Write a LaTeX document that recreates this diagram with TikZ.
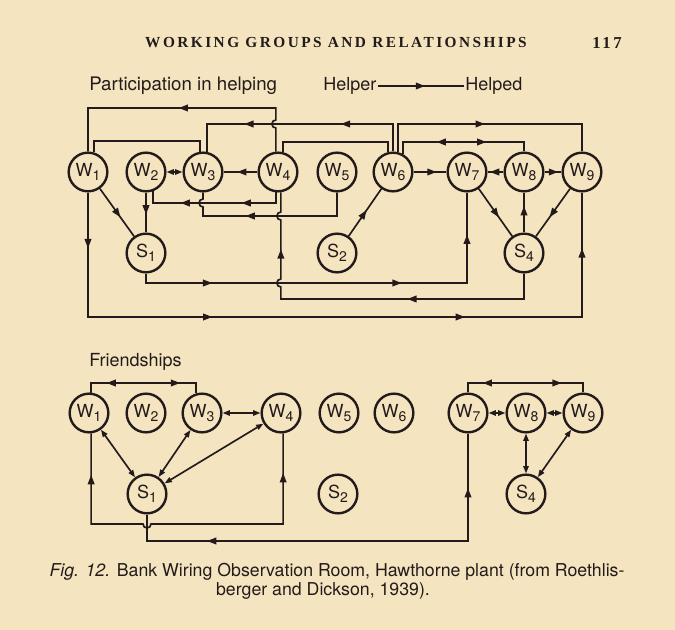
\documentclass[tikz,border=0pt]{standalone}
\usepackage{fontspec}
\setmainfont{TeX Gyre Heros}
\newfontfamily\headfont[LetterSpace=16]{Liberation Serif}
\usepackage{tikz}
\usetikzlibrary{arrows.meta,decorations.markings}

\definecolor{paper}{RGB}{244,229,192}
\definecolor{ink}{RGB}{35,27,27}
\newcommand{\lowidx}[1]{\raisebox{-0.45ex}{\fontsize{10.5}{10.5}\selectfont #1}}

\begin{document}
\begin{tikzpicture}[x=0.75pt,y=0.75pt,yscale=-1,xscale=1,
	man/.style={circle,draw=ink,text=ink,line width=1.8pt,minimum size=29pt,inner sep=0pt,font=\fontsize{13.5}{13.5}\selectfont},
	link/.style={draw=ink,line width=1.25pt},
	fwd/.style={postaction={decorate,decoration={markings,mark=at position #1 with {\arrow{Triangle[length=7pt,width=5pt]}}}}},
	bwd/.style={postaction={decorate,decoration={markings,mark=at position #1 with {\arrowreversed{Triangle[length=7pt,width=5pt]}}}}},
	mutual/.style={<->,>={Triangle[length=5.5pt,width=4pt]}},
	label/.style={text=ink,inner sep=0.75pt}]
				%set diagram to the page size
				\fill [paper] (0,0) rectangle (675,630);
				\useasboundingbox (0,0) rectangle (675,630);
				
				% Text Node
				\node [label,font=\headfont\bfseries\fontsize{11.5}{11.5}\selectfont] (head) at (336,43) {WORKING GROUPS AND RELATIONSHIPS};
				% Text Node
				\node [label,font=\headfont\bfseries\fontsize{12.5}{12.5}\selectfont] (page) at (607,43) {117};
				% Text Node
				\node [label,anchor=west,font=\fontsize{14}{14}\selectfont] (help) at (88,86) {Participation in helping};
				% Text Node
				\node [label,anchor=west,font=\fontsize{13.5}{13.5}\selectfont] (helper) at (322,86) {Helper};
				% Text Node
				\node [label,anchor=west,font=\fontsize{13.5}{13.5}\selectfont] (helped) at (464,86) {Helped};
				% Text Node
				\node [label,anchor=west,font=\fontsize{13.5}{13.5}\selectfont] (friend) at (88,362) {Friendships};
				%Straight Lines: legend
				\draw [link,fwd=0.55] (helper) -- (helped);
				
				%Shape: Circle -- helping
				\node [man] (w1) at (88,172) {W\lowidx{1}};
				\node [man] (w2) at (146,172) {W\lowidx{2}};
				\node [man] (w3) at (203,172) {W\lowidx{3}};
				\node [man] (w4) at (278,172) {W\lowidx{4}};
				\node [man] (w5) at (337,172) {W\lowidx{5}};
				\node [man] (w6) at (393,172) {W\lowidx{6}};
				\node [man] (w7) at (467,172) {W\lowidx{7}};
				\node [man] (w8) at (524,172) {W\lowidx{8}};
				\node [man] (w9) at (582,172) {W\lowidx{9}};
				\node [man] (s1) at (146,253) {S\lowidx{1}};
				\node [man] (s2) at (337,253) {S\lowidx{2}};
				\node [man] (s4) at (524,253) {S\lowidx{4}};
				
				%Straight Lines -- helping, over the top
				\draw [link,fwd=0.52] (w4.96) -- (w4.96 |- 0,128) arc[start angle=90,end angle=270,radius=4] |- (w1.north |- 0,108) -- (w1.north);
				\draw [link] (w1.73) |- (w3.98 |- 0,141) -- (w3.98);
				\draw [link,fwd=0.33,fwd=0.73] (w6.north) |- (w3.79 |- 0,124) -- (w3.79);
				\draw [link,fwd=0.48] (w6.76) |- (w9.north |- 0,124) -- (w9.north);
				\draw [link,bwd=0.32,fwd=0.67] (w6.61) |- (w8.north |- 0,142) -- (w8.north);
				\draw [link] (w4.76) |- (w6.104 |- 0,142) -- (w6.104);
				%Straight Lines -- helping, in the row
				\draw [link,fwd=0.6] (w4) -- (w3);
				\draw [link,mutual] (w2) -- (w3);
				\draw [link,fwd=0.7] (w6) -- (w7);
				\draw [link,fwd=0.85] (w8) -- (w7);
				\draw [link,fwd=0.8] (w8) -- (w9);
				%Straight Lines -- helping, to and from the inspectors
				\draw [link,fwd=0.6] (w1) -- (s1);
				\draw [link,fwd=0.55] (w2) -- (s1);
				\draw [link,fwd=0.55] (s2) -- (w6);
				\draw [link,fwd=0.6] (w7) -- (s4);
				\draw [link,fwd=0.66] (s4) -- (w8);
				\draw [link,fwd=0.6] (w9) -- (s4);
				%Straight Lines -- helping, underneath
				\draw [link,fwd=0.31,fwd=0.73] (w4.264) |- (w2.290 |- 0,203) -- (w2.290);
				\draw [link,fwd=0.62] (w5.south) |- (w3.south |- 0,216) -- (w3.south |- 0,207) arc[start angle=90,end angle=270,radius=4] -- (w3.south);
				\draw [link,fwd=0.37,fwd=0.84] (s4.south) |- (w4.278 |- 0,299) -- (w4.278 |- 0,287) arc[start angle=90,end angle=270,radius=4] -- (w4.278 |- 0,220) arc[start angle=90,end angle=270,radius=4] -- (w4.278);
				\draw [link,fwd=0.18,fwd=0.63,fwd=0.9] (s1.south) |- (w7.south |- 0,283) -- (w7.south);
				\draw [link,fwd=0.075,fwd=0.335,fwd=0.675,fwd=0.925] (w1.south) |- (w9.south |- 0,317) -- (w9.south);
				
				%Shape: Circle -- friendships
				\node [man] (fw1) at (89,413) {W\lowidx{1}};
				\node [man] (fw2) at (146,413) {W\lowidx{2}};
				\node [man] (fw3) at (202,413) {W\lowidx{3}};
				\node [man] (fw4) at (281,413) {W\lowidx{4}};
				\node [man] (fw5) at (339,413) {W\lowidx{5}};
				\node [man] (fw6) at (394,413) {W\lowidx{6}};
				\node [man] (fw7) at (468,413) {W\lowidx{7}};
				\node [man] (fw8) at (526,413) {W\lowidx{8}};
				\node [man] (fw9) at (583,413) {W\lowidx{9}};
				\node [man] (fs1) at (147,494) {S\lowidx{1}};
				\node [man] (fs2) at (338,494) {S\lowidx{2}};
				\node [man] (fs4) at (526,494) {S\lowidx{4}};
				
				%Straight Lines -- friendships
				\draw [link,bwd=0.2,fwd=0.79] (fw1.84) |- (fw3.107 |- 0,383) -- (fw3.107);
				\draw [link,mutual] (fw3) -- (fw4);
				\draw [link,mutual] (fw1) -- (fs1);
				\draw [link,mutual] (fw3) -- (fs1);
				\draw [link,mutual] (fw4) -- (fs1);
				\draw [link,bwd=0.11,fwd=0.895] (fw1.276) |- (143,524) arc[start angle=180,end angle=0,radius=4] -| (fw4.276);
				\draw [link,bwd=0.19,fwd=0.88] (fs1.south) |- (fw7.south |- 0,541) -- (fw7.south);
				\draw [link,bwd=0.18,fwd=0.77] (fw7.north) |- (fw9.north |- 0,383) -- (fw9.north);
				\draw [link,mutual] (fw7) -- (fw8);
				\draw [link,mutual] (fw8) -- (fw9);
				\draw [link,mutual] (fw8) -- (fs4);
				\draw [link,mutual] (fw9) -- (fs4);
				
				% Text Node
				\node [label,font=\fontsize{13.3}{15}\selectfont] (cap1) at (337,572) {\textit{Fig. 12.} Bank Wiring Observation Room, Hawthorne plant (from Roethlis-};
				% Text Node
				\node [label,font=\fontsize{13.3}{15}\selectfont] (cap2) at (323,591) {berger and Dickson, 1939).};
\end{tikzpicture}
\end{document}
